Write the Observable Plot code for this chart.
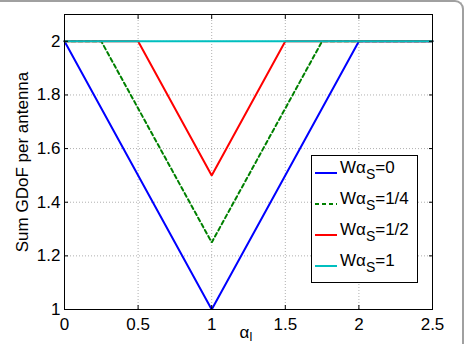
<!DOCTYPE html>
<html><head>
<meta charset="utf-8">
<script src="https://cdn.jsdelivr.net/npm/d3@7"></script>
<script src="https://cdn.jsdelivr.net/npm/@observablehq/plot@0.6"></script>
<style>
body{margin:0;background:#fff;}
#wrap{position:relative;width:464px;height:344px;overflow:hidden;font-family:"Liberation Sans",Arial,sans-serif;}
#border{position:absolute;left:-10px;top:0px;width:474px;height:400px;box-sizing:border-box;border-top:2px solid #a0a0a0;border-right:2px solid #a0a0a0;border-top-right-radius:9px;pointer-events:none;}
svg{display:block;}
</style>
</head><body>
<div id="wrap"><div id="border"></div></div>
<script>
// data
const x0 = [0, 1, 2, 2.5],          y0 = [2, 1, 2, 2];
const x14 = [0, 0.25, 1, 1.75, 2.5], y14 = [2, 2, 1.25, 2, 2];
const x12 = [0, 0.5, 1, 1.5, 2.5],  y12 = [2, 2, 1.5, 2, 2];
const x1 = [0, 2.5],                y1 = [2, 2];
const seriesLabels = ["0", "1/4", "1/2", "1"];
const seriesColors = ["#0000ff", "#008000", "#ff0000", "#00bfbf"];
const seriesDash = [null, "4,3", null, null];
const xTicks = [0, 0.5, 1, 1.5, 2, 2.5];
const yTicks = [1, 1.2, 1.4, 1.6, 1.8, 2];

const xs = [x0, x14, x12, x1], ys = [y0, y14, y12, y1];
const rows = [];
xs.forEach((xa, i) => xa.forEach((x, j) => rows.push({s: i, x, y: ys[i][j]})));

const font = '"Liberation Sans",Arial,sans-serif';
const gridStyle = {stroke: "#b0b0b0", strokeOpacity: 1, strokeDasharray: "1,2", strokeWidth: 1};

const lineMarks = seriesLabels.map((lab, i) =>
  Plot.line(rows.filter(d => d.s === i), {x: "x", y: "y", stroke: seriesColors[i], strokeWidth: 2,
    strokeDasharray: seriesDash[i] || undefined, strokeLinejoin: "miter"}));

const fmt = d => String(d);

const chart = Plot.plot({
  width: 464, height: 344,
  marginLeft: 64, marginRight: 32, marginTop: 14, marginBottom: 35,
  x: {domain: [0, 2.5], label: null},
  y: {domain: [1, 2.1], label: null},
  style: {fontSize: "17px", fontFamily: font, color: "#000", background: "transparent"},
  marks: [
    Plot.gridX(xTicks, gridStyle),
    Plot.gridY(yTicks, gridStyle),
    ...lineMarks,
    Plot.axisX(xTicks, {anchor: "bottom", tickSize: -4, tickPadding: 12, label: null, tickFormat: fmt, fontSize: 17}),
    Plot.axisX(xTicks, {anchor: "top", tickSize: -4, tickFormat: () => "", label: null}),
    Plot.axisY(yTicks, {anchor: "left", tickSize: -4, tickPadding: 8, label: null, tickFormat: fmt, fontSize: 17}),
    Plot.axisY(yTicks, {anchor: "right", tickSize: -4, tickFormat: () => "", label: null}),
    Plot.frame({stroke: "#000", strokeWidth: 1})
  ]
});

const svg = d3.select(chart);
const txt = sel => sel.style("font-size", "17px").style("font-family", font).attr("fill", "#000");
// y label
txt(svg.append("text").attr("transform", "translate(28,162) rotate(-90)")
  .attr("text-anchor", "middle"))
  .text("Sum GDoF per antenna");
// x label
const xl = txt(svg.append("text").attr("x", 246).attr("y", 338).attr("text-anchor", "middle"));
xl.append("tspan").text("α");
xl.append("tspan").style("font-size", "12px").attr("dy", 3).text("I");

// legend
const lg = svg.append("g");
lg.append("rect").attr("x", 311.5).attr("y", 155.5).attr("width", 106).attr("height", 127)
  .attr("fill", "#fff").attr("stroke", "#000").attr("stroke-width", 1);
seriesLabels.forEach((lab, i) => {
  const yy = 173 + i * 31;
  lg.append("line").attr("x1", 315).attr("x2", 337).attr("y1", yy).attr("y2", yy)
    .attr("stroke", seriesColors[i]).attr("stroke-width", 2)
    .attr("stroke-dasharray", seriesDash[i]);
  const t = txt(lg.append("text").attr("x", 340).attr("y", yy).attr("text-anchor", "start"));
  t.append("tspan").text("Wα");
  t.append("tspan").style("font-size", "14px").attr("dy", 6).text("S");
  t.append("tspan").attr("dy", -6).text("=" + lab);
});

document.getElementById("wrap").prepend(chart);
</script>
</body></html>
